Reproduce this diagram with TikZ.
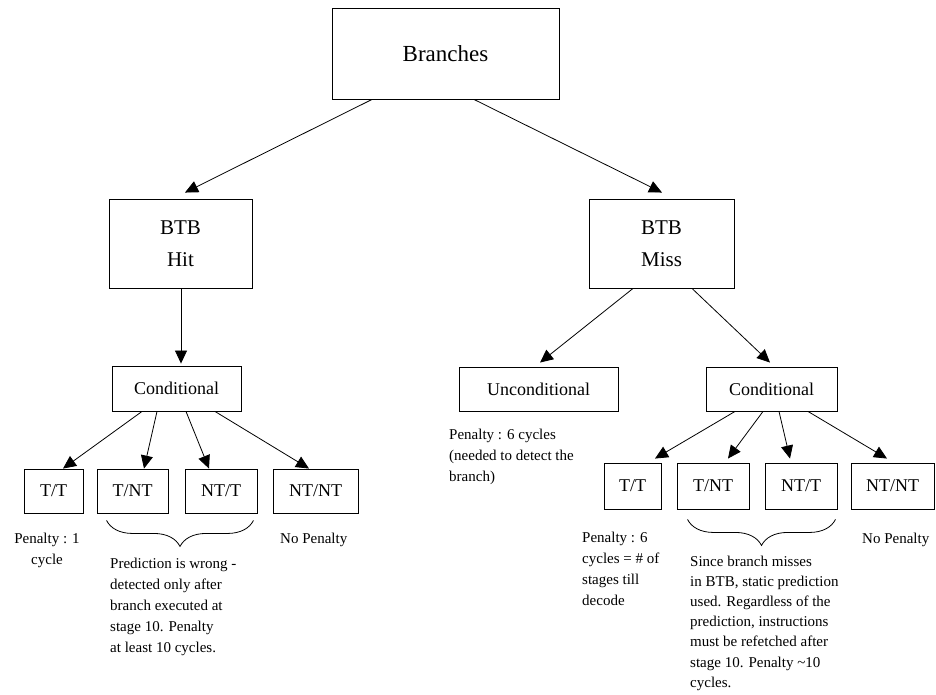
\documentclass[tikz,border=0pt]{standalone}
\usepackage{fontspec}
\setmainfont{Liberation Serif}
\usetikzlibrary{arrows.meta,decorations.pathreplacing}

\begin{document}
\begin{tikzpicture}[x=1pt,y=-1pt,
  box/.style={draw, line width=0.9pt, inner sep=0pt, align=center},
  big/.style={font=\fontsize{23}{28}\selectfont},
  mid/.style={font=\fontsize{21}{32}\selectfont},
  lbl/.style={font=\fontsize{18}{22}\selectfont},
  arr/.style={-{Triangle[length=13pt,width=12pt]}, line width=0.8pt},
  note/.style={inner sep=0pt, align=left, anchor=north west, font=\fontsize{15}{21}\selectfont},
  brc/.style={decorate, decoration={brace, mirror, amplitude=26pt}, line width=0.8pt}]

\useasboundingbox (0,0) rectangle (936,695);

% top level
\node[box, big, minimum width=227pt, minimum height=91pt] (br) at (445.5,53.5) {Branches};

% second level
\node[box, mid, minimum width=143pt, minimum height=89pt] (hit)  at (180.5,243.5) {BTB\\Hit};
\node[box, mid, minimum width=145pt, minimum height=89pt] (miss) at (661.5,243.5) {BTB\\Miss};

% third level
\node[box, lbl, minimum width=129pt, minimum height=45pt] (hcond)  at (176.5,388.5) {Conditional};
\node[box, lbl, minimum width=159pt, minimum height=44pt] (uncond) at (538.5,389)   {Unconditional};
\node[box, lbl, minimum width=131pt, minimum height=44pt] (mcond)  at (771.5,389)   {Conditional};

% outcomes under a BTB hit
\node[box, lbl, minimum width=59pt, minimum height=44pt] (tt1)   at (53.5,491)  {T/T};
\node[box, lbl, minimum width=71pt, minimum height=44pt] (tnt1)  at (132.5,491) {T/NT};
\node[box, lbl, minimum width=72pt, minimum height=44pt] (ntt1)  at (221,491)   {NT/T};
\node[box, lbl, minimum width=85pt, minimum height=44pt] (ntnt1) at (315.5,491) {NT/NT};

% outcomes under a BTB miss
\node[box, lbl, minimum width=57pt, minimum height=46pt] (tt2)   at (632.5,486) {T/T};
\node[box, lbl, minimum width=72pt, minimum height=46pt] (tnt2)  at (713,486)   {T/NT};
\node[box, lbl, minimum width=72pt, minimum height=46pt] (ntt2)  at (801,486)   {NT/T};
\node[box, lbl, minimum width=83pt, minimum height=46pt] (ntnt2) at (892.5,486) {NT/NT};

% connectors
\draw[arr] ([xshift=-73.5pt]br.south) -- ([xshift=4.5pt,yshift=6pt]hit.north);
\draw[arr] ([xshift=28.5pt]br.south)  -- ([xshift=0.5pt,yshift=6pt]miss.north);

\draw[arr] ([xshift=0.5pt]hit.south) -- ([xshift=4.5pt,yshift=2pt]hcond.north);
\draw[arr] ([xshift=-28.5pt]miss.south) -- ([xshift=1.5pt,yshift=4pt]uncond.north);
\draw[arr] ([xshift=30.5pt]miss.south)  -- ([xshift=-1.5pt,yshift=4pt]mcond.north);

\draw[arr] ([xshift=-34.5pt]hcond.south) -- ([xshift=9.5pt]tt1.north);
\draw[arr] ([xshift=-19.5pt]hcond.south) -- ([xshift=11.5pt]tnt1.north);
\draw[arr] ([xshift=9.5pt]hcond.south)   -- ([xshift=-12pt]ntt1.north);
\draw[arr] ([xshift=38.5pt]hcond.south)  -- ([xshift=-6.5pt]ntnt1.north);

\draw[arr] ([xshift=-36.5pt]mcond.south) -- ([xshift=22.5pt,yshift=4pt]tt2.north);
\draw[arr] ([xshift=-8.5pt]mcond.south)  -- ([xshift=15pt,yshift=4pt]tnt2.north);
\draw[arr] ([xshift=7.5pt]mcond.south)   -- ([xshift=-11pt,yshift=4pt]ntt2.north);
\draw[arr] ([xshift=36.5pt]mcond.south)  -- ([xshift=-5.5pt,yshift=4pt]ntnt2.north);

% braces grouping the mispredicted cases
\draw[brc] ([xshift=10pt,yshift=-7pt]tnt1.south west) -- ([xshift=-4pt,yshift=-7pt]ntt1.south east);
\draw[brc] ([xshift=11pt,yshift=-10pt]tnt2.south west) -- ([xshift=-2pt,yshift=-10pt]ntt2.south east);

% penalty notes
\node[note, align=center, anchor=north] (n1) at (47,532.8) {Penalty : 1\\cycle};
\node[note] (n2) at (110,557.8) {Prediction is wrong -\\detected only after\\branch executed at\\stage 10. Penalty\\at least 10 cycles.};
\node[note] (n3) at (280,532.8) {No Penalty};

\node[note] (n4) at (449,428.8) {Penalty : 6 cycles\\(needed to detect the\\branch)};
\node[note] (n5) at (582,531.8) {Penalty : 6\\cycles = \# of\\stages till\\decode};
\node[note, font=\fontsize{15}{20.2}\selectfont] (n6) at (690,555.5) {Since branch misses\\in BTB, static prediction\\used. Regardless of the\\prediction, instructions\\must be refetched after\\stage 10. Penalty \textasciitilde10\\cycles.};
\node[note] (n7) at (862,532.8) {No Penalty};

\end{tikzpicture}
\end{document}
